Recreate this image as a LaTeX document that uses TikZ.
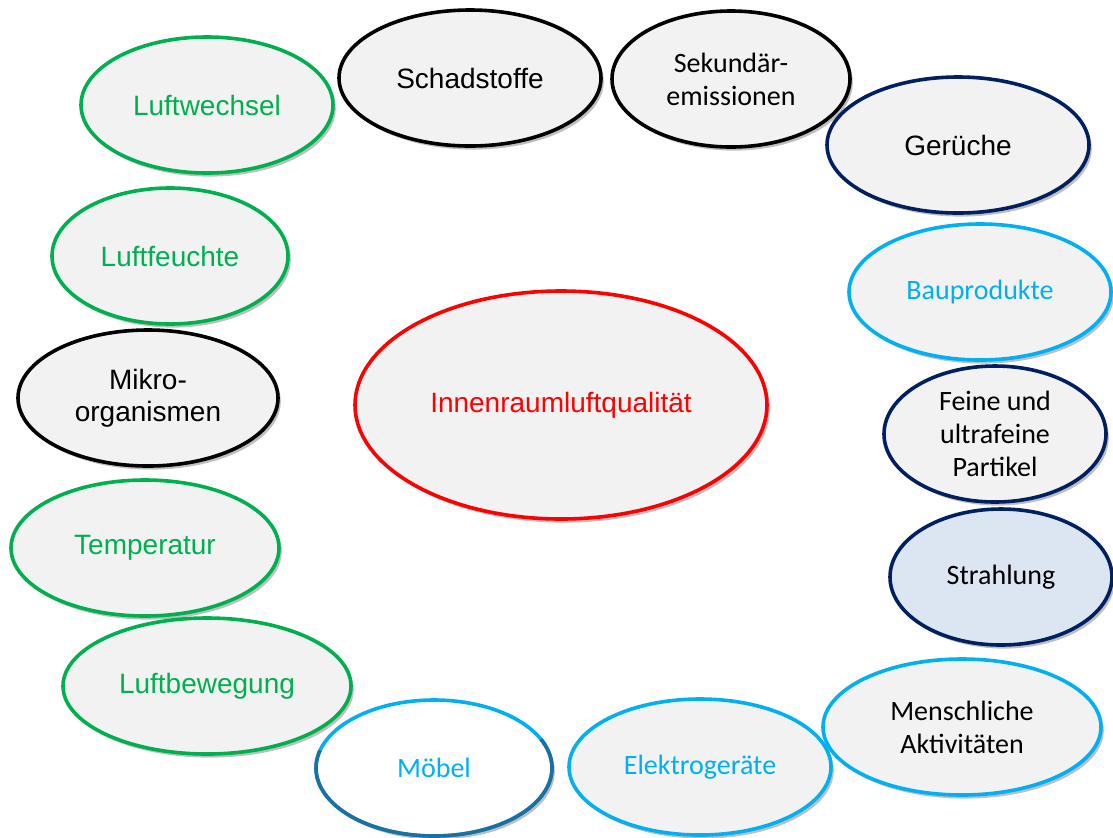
\documentclass[tikz,border=0pt]{standalone}
\usepackage{fontspec}
\setmainfont{Liberation Sans}
\newfontfamily\calibri{Carlito}
\usetikzlibrary{shapes.geometric,shadows}
\definecolor{climatecolor}{RGB}{0,176,80}
\definecolor{particlecolor}{RGB}{0,32,96}
\definecolor{sourcecolor}{RGB}{0,176,240}
\definecolor{qualitycolor}{RGB}{255,0,0}
\definecolor{fillcolor}{RGB}{242,242,242}
\definecolor{raycolor}{RGB}{220,230,242}
\definecolor{rimcolor}{RGB}{28,112,160}

\begin{document}
\begin{tikzpicture}[x=0.5pt, y=-0.5pt]
  % Node styles for the influence map
  \tikzset{
    factor/.style={ellipse, line width=1.8pt, fill=fillcolor, inner sep=0pt, outer sep=0pt, align=center, minimum height=68pt, font=\fontsize{14}{16}\selectfont, drop shadow={shadow xshift=1.4pt, shadow yshift=-1.8pt, opacity=0.5}},
    cal/.style={font=\calibri\fontsize{14}{16.5}\selectfont},
    climate/.style={factor, draw=climatecolor, text=climatecolor},
    pollutant/.style={factor, draw=black},
    particle/.style={factor, draw=particlecolor},
    source/.style={factor, draw=sourcecolor},
    quality/.style={factor, draw=qualitycolor, text=qualitycolor, minimum width=206pt, minimum height=114pt}
  }
  \useasboundingbox (0,0) rectangle (1113,837);

  % Left column: room climate
  \node[climate, minimum width=126pt] (luftwechsel) at (207,105) {Luftwechsel};
  \node[climate, minimum width=118pt] (luftfeuchte) at (170,256) {Luftfeuchte};
  \node[pollutant, minimum width=130pt] (mikro) at (148,398) {Mikro-\\organismen};
  \node[climate, minimum width=134pt] (temperatur) at (145,548) {Temperatur};
  \node[climate, minimum width=144pt] (luftbewegung) at (207,686) {Luftbewegung};

  % Top row and right column
  \node[pollutant, minimum width=131pt] (schadstoffe) at (470,78) {Schadstoffe};
  \node[pollutant, cal, minimum width=119pt] (sekundaer) at (731,79) {Sekundär-\\emissionen};
  \node[particle, minimum width=131pt] (gerueche) at (958,145) {Gerüche};
  \node[source, cal, text=sourcecolor, minimum width=131pt] (bauprodukte) at (980,292) {Bauprodukte};
  \node[particle, cal, minimum width=111pt] (partikel) at (995,434) {Feine und\\ultrafeine\\Partikel};
  \node[particle, cal, fill=raycolor, minimum width=111pt] (strahlung) at (1001,577) {Strahlung};

  % Bottom row: sources
  \node[source, cal, minimum width=139pt] (aktivitaeten) at (962,727) {Menschliche\\Aktivitäten};
  \node[source, cal, text=sourcecolor, minimum width=131pt] (elektro) at (700,767) {Elektrogeräte};
  \node[source, cal, text=sourcecolor, fill=white, minimum width=118pt] (moebel) at (434,768) {Möbel};
  \draw[line width=1.8pt, rimcolor] (moebel.center) ++(25:59pt and 34pt) arc[start angle=25, end angle=-195, x radius=59pt, y radius=34pt];

  % Centre
  \node[quality] (iaq) at (561,405) {Innenraumluftqualität};
\end{tikzpicture}
\end{document}
